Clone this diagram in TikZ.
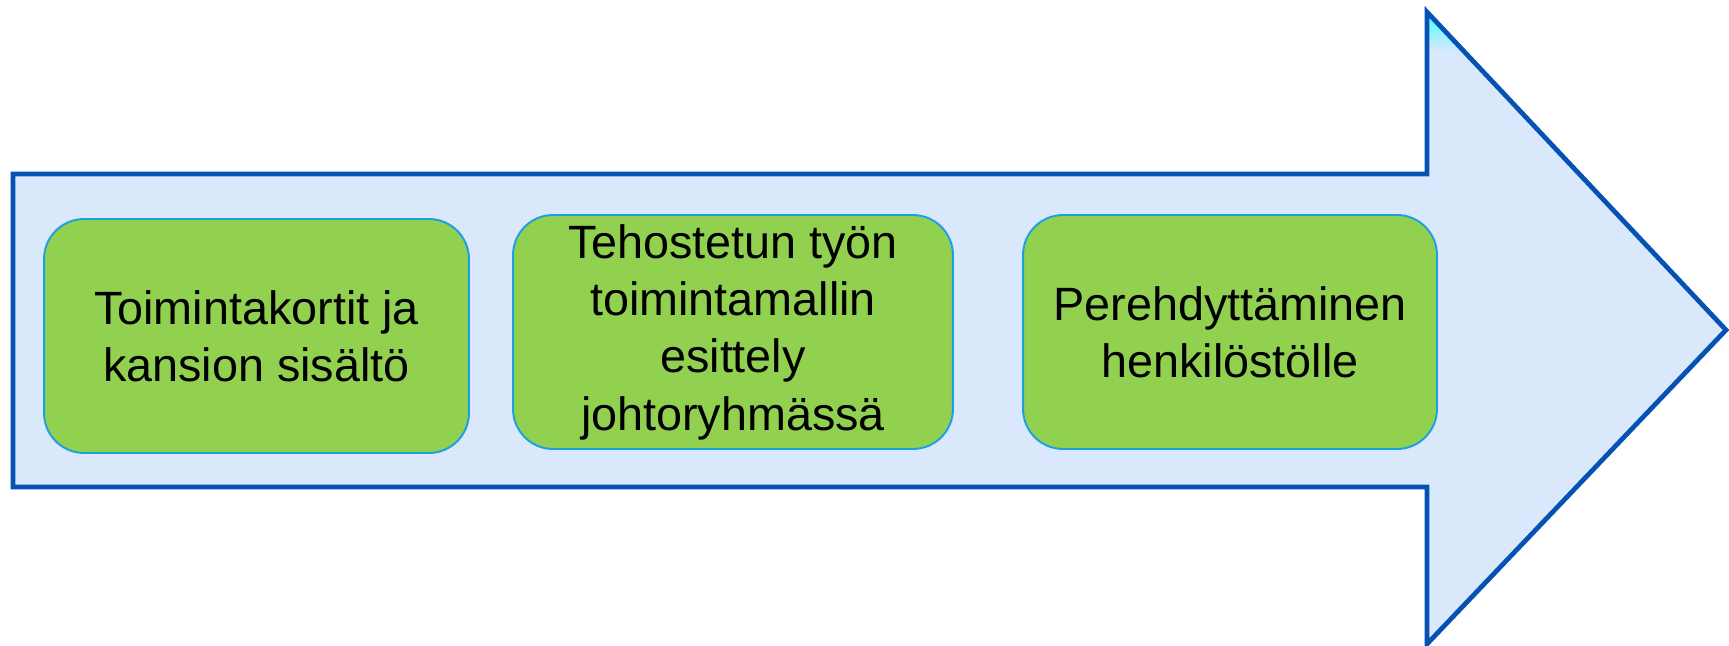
\documentclass[tikz,border=0pt]{standalone}
\usepackage{fontspec}
\setmainfont{Liberation Sans}
\definecolor{arrowfill}{HTML}{DAE8FC}
\definecolor{arrowline}{HTML}{0652B4}
\definecolor{stepfill}{HTML}{92D050}
\definecolor{stepline}{HTML}{1BA1E2}
\begin{document}
\begin{tikzpicture}[x=0.02cm,y=-0.02cm,
  stepbox/.style={draw=stepline,fill=stepfill,line width=1.1pt,rounded corners=0.8cm,
    inner sep=0pt,minimum height=4.68cm,align=center,
    font=\fontsize{26.6}{32.6}\selectfont}]
	\useasboundingbox (0,0) rectangle (1729,646);
	% big arrow
	\fill[arrowfill] (13,174)--(1427,174)--(1427,12)--(1726,330)--(1427,644)--(1427,487)--(13,487)--cycle;
	\begin{scope}
		\clip (1427,12)--(1726,330)--(1427,330)--cycle;
		\shade[top color=cyan!70!white,bottom color=arrowfill] (1427,14) rectangle (1500,52);
	\end{scope}
	\draw[arrowline,line width=2.7pt] (13,174)--(1427,174)--(1427,12)--(1726,330)--(1427,644)--(1427,487)--(13,487)--cycle;
	% steps
	\node[stepbox,minimum width=8.5cm] (kortit) at (256.5,336) {Toimintakortit ja\\kansion sisältö};
	\node[stepbox,minimum width=8.8cm] (esittely) at (733,332) {Tehostetun työn\\toimintamallin\\esittely\\johtoryhmässä};
	\node[stepbox,minimum width=8.28cm] (perehdytys) at (1230,332) {Perehdyttäminen\\henkilöstölle};
\end{tikzpicture}
\end{document}
